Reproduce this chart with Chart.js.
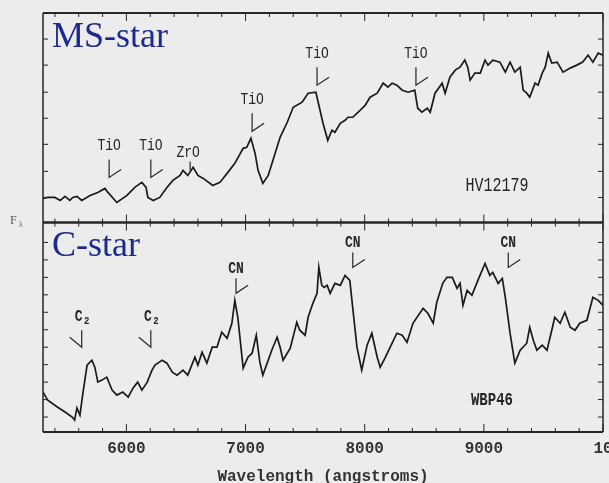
<!DOCTYPE html>
<html lang="en">
<head>
<meta charset="UTF-8">
<title>MS-star and C-star spectra</title>
<script src="https://cdn.jsdelivr.net/npm/chart.js"></script>
<style>
  html, body { margin: 0; padding: 0; background: #ececec; overflow: hidden; }
</style>
</head>
<body>
<canvas id="spec" width="609" height="483"></canvas>
<script>
// wavelength (angstroms) / relative flux
const msWave = [5300,5340,5400,5445,5485,5525,5550,5585,5625,5695,5760,5820,5845,5920,6005,6070,6130,6165,6180,6225,
  6280,6340,6390,6450,6475,6515,6560,6600,6645,6725,6785,6845,6910,6980,7010,7045,7080,7105,7145,7190,
  7230,7290,7350,7400,7475,7525,7590,7625,7650,7690,7725,7750,7795,7835,7860,7900,7945,8005,8045,8105,
  8155,8195,8230,8270,8315,8365,8420,8445,8480,8525,8550,8590,8650,8675,8715,8760,8800,8840,8865,8885,
  8925,8970,9010,9035,9075,9135,9180,9220,9260,9305,9330,9360,9385,9430,9455,9490,9515,9540,9570,9615,
  9665,9725,9780,9830,9875,9915,9960,10000];
const msFlux = [0.24,0.25,0.25,0.22,0.26,0.22,0.25,0.26,0.22,0.27,0.30,0.34,0.30,0.20,0.27,0.35,0.40,0.35,0.25,0.22,
  0.25,0.35,0.42,0.47,0.52,0.47,0.55,0.47,0.44,0.37,0.40,0.49,0.59,0.74,0.75,0.84,0.69,0.52,0.39,0.47,
  0.62,0.85,1.00,1.15,1.20,1.29,1.30,1.12,0.99,0.82,0.92,0.90,0.99,1.02,1.05,1.05,1.10,1.17,1.25,1.29,
  1.39,1.35,1.39,1.37,1.32,1.30,1.32,1.14,1.10,1.14,1.10,1.29,1.39,1.29,1.45,1.52,1.55,1.62,1.55,1.42,
  1.49,1.49,1.62,1.57,1.62,1.60,1.50,1.60,1.50,1.55,1.32,1.29,1.25,1.39,1.37,1.49,1.55,1.69,1.59,1.60,
  1.50,1.54,1.57,1.60,1.67,1.60,1.69,1.67];

const cWave = [5300,5340,5420,5485,5545,5565,5585,5610,5635,5670,5710,5735,5760,5795,5835,5880,5920,5970,6015,6055,
  6095,6130,6175,6215,6240,6300,6340,6385,6425,6475,6515,6575,6600,6635,6675,6720,6760,6800,6845,6885,
  6910,6935,6980,7020,7055,7090,7120,7145,7190,7220,7265,7290,7315,7375,7430,7455,7500,7525,7565,7600,
  7615,7640,7660,7685,7710,7750,7795,7835,7875,7900,7935,7975,8020,8060,8105,8130,8170,8210,8270,8315,
  8355,8405,8490,8530,8575,8605,8655,8690,8735,8775,8800,8825,8860,8900,8950,9010,9050,9075,9120,9155,
  9180,9220,9260,9305,9360,9385,9415,9445,9490,9530,9570,9595,9640,9680,9725,9765,9805,9865,9915,9960,10000];
const cFlux = [0.40,0.32,0.25,0.20,0.15,0.12,0.24,0.17,0.39,0.67,0.72,0.65,0.50,0.52,0.55,0.42,0.37,0.40,0.35,0.44,
  0.50,0.42,0.50,0.62,0.67,0.72,0.69,0.60,0.57,0.62,0.57,0.75,0.67,0.80,0.69,0.85,0.85,1.00,0.94,1.09,
  1.32,1.15,0.64,0.75,0.79,0.97,0.70,0.57,0.72,0.82,0.95,0.85,0.72,0.84,1.10,1.02,0.97,1.15,1.29,1.39,
  1.65,1.47,1.45,1.47,1.39,1.49,1.47,1.57,1.52,1.24,0.85,0.62,0.87,0.99,0.75,0.65,0.74,0.84,0.99,0.97,
  0.90,1.09,1.24,1.19,1.09,1.30,1.49,1.55,1.55,1.44,1.49,1.27,1.42,1.37,1.52,1.69,1.57,1.60,1.49,1.54,
  1.35,0.99,0.69,0.82,0.89,1.05,0.92,0.82,0.87,0.82,1.02,1.15,1.09,1.20,1.05,1.02,1.09,1.12,1.35,1.32,1.27];

const xTicks = [6000, 7000, 8000, 9000, 10000];
const xTickLabels = ['6000', '7000', '8000', '9000', '   10000'];
const msFluxTicks = [0.25, 0.51, 0.78, 1.04, 1.30, 1.57, 1.83];
const cFluxTicks = [0.15, 0.325, 0.5, 0.675, 0.85, 1.025, 1.2, 1.375, 1.55, 1.725, 1.9];

// band identifications: [name, wavelength, flux at foot of marker]
const msBands = [['TiO', 5855, 0.45], ['TiO', 6205, 0.45], ['ZrO', 6535, 0.52],
  ['TiO', 7055, 0.91], ['TiO', 7600, 1.37], ['TiO', 8430, 1.37]];
const cBands = [['C2', 5625, 0.85], ['C2', 6205, 0.85], ['CN', 6920, 1.39],
  ['CN', 7900, 1.65], ['CN', 9205, 1.65]];

const ink = '#262626';
const mono = '"Liberation Mono", "DejaVu Sans Mono", monospace';

function tallText(ctx, str, cx, cy, size, weight) {
  ctx.save();
  ctx.translate(cx, cy);
  ctx.scale(1, 1.3);
  ctx.font = (weight || 'normal') + ' ' + size + 'px ' + mono;
  ctx.textAlign = 'center';
  ctx.textBaseline = 'middle';
  ctx.fillText(str, 0, 0);
  ctx.restore();
}

const framePlugin = {
  id: 'frame',
  beforeDraw(chart) {
    const { ctx, width, height } = chart;
    ctx.save();
    ctx.fillStyle = '#ececec';
    ctx.fillRect(0, 0, width, height);
    ctx.restore();
  },
  afterDatasetsDraw(chart) {
    const { ctx, chartArea: a, scales } = chart;
    const x = scales.x;
    ctx.save();
    ctx.strokeStyle = ink;
    ctx.fillStyle = ink;

    [[scales.yTop, msFluxTicks], [scales.yBot, cFluxTicks]].forEach(([s, yt]) => {
      ctx.lineWidth = 2;
      ctx.beginPath();
      ctx.moveTo(a.left, s.top); ctx.lineTo(a.right, s.top);
      ctx.moveTo(a.left, s.bottom); ctx.lineTo(a.right, s.bottom);
      ctx.stroke();
      ctx.lineWidth = 1.5;
      ctx.beginPath();
      ctx.moveTo(a.left, s.top); ctx.lineTo(a.left, s.bottom);
      ctx.moveTo(a.right, s.top); ctx.lineTo(a.right, s.bottom);
      ctx.stroke();

      // inward ticks
      ctx.lineWidth = 1;
      ctx.beginPath();
      for (let w = 5400; w <= x.max; w += 200) {
        const px = x.getPixelForValue(w);
        const len = w % 1000 === 0 ? 8 : 4;
        ctx.moveTo(px, s.top); ctx.lineTo(px, s.top + len);
        ctx.moveTo(px, s.bottom); ctx.lineTo(px, s.bottom - len);
      }
      yt.forEach(v => {
        const py = s.getPixelForValue(v);
        ctx.moveTo(a.left, py); ctx.lineTo(a.left + 5, py);
        ctx.moveTo(a.right, py); ctx.lineTo(a.right - 5, py);
      });
      ctx.stroke();
    });

    // band markers
    ctx.lineWidth = 1.2;
    const yT = scales.yTop, yB = scales.yBot;
    msBands.forEach(([name, w, f]) => {
      const px = x.getPixelForValue(w), py = yT.getPixelForValue(f);
      ctx.beginPath();
      if (name === 'ZrO') {
        ctx.moveTo(px, py); ctx.lineTo(px, py - 9);
        ctx.stroke();
        tallText(ctx, name, px - 2, py - 18, 13);
        return;
      }
      ctx.moveTo(px, py - 18); ctx.lineTo(px, py); ctx.lineTo(px + 12, py - 8);
      ctx.stroke();
      tallText(ctx, name, px, py - 32, 13);
    });
    cBands.forEach(([name, w, f]) => {
      const px = x.getPixelForValue(w), py = yB.getPixelForValue(f);
      ctx.beginPath();
      if (name === 'C2') {
        ctx.moveTo(px - 12, py - 10); ctx.lineTo(px, py); ctx.lineTo(px, py - 17);
        ctx.stroke();
        tallText(ctx, 'C', px - 3, py - 30, 13, 'bold');
        tallText(ctx, '2', px + 5, py - 26, 9, 'bold');
        return;
      }
      ctx.moveTo(px, py - 15); ctx.lineTo(px, py); ctx.lineTo(px + 12, py - 8);
      ctx.stroke();
      tallText(ctx, name, px, py - 25, 13, 'bold');
    });

    // star ids
    tallText(ctx, 'HV12179', x.getPixelForValue(9110), yT.getPixelForValue(0.37), 15);
    tallText(ctx, 'WBP46', x.getPixelForValue(9068), yB.getPixelForValue(0.32), 14, 'bold');

    // panel titles
    ctx.fillStyle = '#1b2a8c';
    ctx.font = '36px "Liberation Serif", serif';
    ctx.textAlign = 'left';
    ctx.textBaseline = 'alphabetic';
    ctx.fillText('MS-star', 52, yT.top + 34);
    ctx.fillText('C-star', 52, yB.top + 33);

    // flux label
    ctx.fillStyle = '#555';
    ctx.font = '12px "Liberation Serif", serif';
    ctx.fillText('F', 10, yT.bottom + 1);
    ctx.font = '8px "Liberation Serif", serif';
    ctx.fillText('\u03bb', 19, yT.bottom + 4);
    ctx.restore();
  }
};

const lineStyle = {
  borderColor: '#1a1a1a', borderWidth: 1.7, pointRadius: 0, tension: 0, fill: false
};

new Chart(document.getElementById('spec'), {
  type: 'line',
  data: {
    datasets: [
      Object.assign({ label: 'HV12179', yAxisID: 'yTop',
        data: msWave.map((w, i) => ({ x: w, y: msFlux[i] })) }, lineStyle),
      Object.assign({ label: 'WBP46', yAxisID: 'yBot',
        data: cWave.map((w, i) => ({ x: w, y: cFlux[i] })) }, lineStyle)
    ]
  },
  options: {
    responsive: false,
    animation: false,
    devicePixelRatio: 1,
    layout: { padding: { left: 43, right: 6, top: 13, bottom: 0 } },
    plugins: { legend: { display: false }, tooltip: { enabled: false } },
    scales: {
      x: {
        type: 'linear', min: 5300, max: 10000,
        grid: { display: false, drawTicks: false },
        border: { display: false },
        afterBuildTicks: s => { s.ticks = xTicks.map(v => ({ value: v })); },
        afterFit: s => { s.paddingLeft = 0; s.paddingRight = 0; s.height = 51; },
        ticks: {
          autoSkip: false, maxRotation: 0, padding: 7, color: '#333',
          font: { family: mono, size: 16, weight: 'bold' },
          callback: (v, i) => xTickLabels[i]
        },
        title: {
          display: true, text: 'Wavelength (angstroms)', color: '#333',
          font: { family: mono, size: 16, weight: 'bold' },
          padding: { top: 0, bottom: -4 }
        }
      },
      // stacked panels: the first one listed sits at the bottom
      yBot: {
        type: 'linear', position: 'left', stack: 'panels', stackWeight: 1,
        min: 0, max: 2.10,
        grid: { display: false, drawTicks: false },
        border: { display: false },
        ticks: { display: false }
      },
      yTop: {
        type: 'linear', position: 'left', stack: 'panels', stackWeight: 1,
        min: 0, max: 2.09,
        grid: { display: false, drawTicks: false },
        border: { display: false },
        ticks: { display: false }
      }
    }
  },
  plugins: [framePlugin]
});
</script>
</body>
</html>
